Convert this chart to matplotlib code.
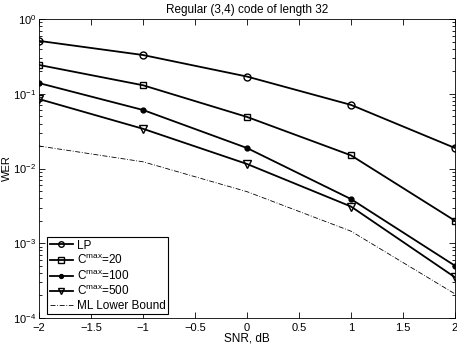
import matplotlib
matplotlib.use("Agg")
import matplotlib.pyplot as plt
from matplotlib.ticker import LogLocator, NullFormatter, FixedLocator

plt.rcParams['font.family'] = ['Liberation Sans', 'DejaVu Sans']
plt.rcParams['mathtext.fontset'] = 'custom'
plt.rcParams['mathtext.rm'] = 'Liberation Sans'
plt.rcParams['mathtext.it'] = 'Liberation Sans'

snr = [-2, -1, 0, 1, 2]
wer_lp = [0.51, 0.33, 0.17, 0.071, 0.0188]
wer_c20 = [0.243, 0.13, 0.049, 0.015, 0.002]
wer_c100 = [0.139, 0.0607, 0.0188, 0.0039, 0.0005]
wer_c500 = [0.085, 0.034, 0.0115, 0.0031, 0.00035]
wer_ml = [0.020, 0.0123, 0.0049, 0.00145, 0.00021]
labels = ['LP', r'C$^{\mathrm{max}}$=20', r'C$^{\mathrm{max}}$=100', r'C$^{\mathrm{max}}$=500', 'ML Lower Bound']

fig = plt.figure(figsize=(4.57, 3.46), dpi=100)
ax = fig.add_axes([0.0853, 0.081, 0.9103, 0.864])

kw = dict(color='black', lw=1.3)
ax.semilogy(snr, wer_lp, marker='o', ms=5, mfc='none', mec='black', mew=1.0, label=labels[0], **kw)
ax.semilogy(snr, wer_c20, marker='s', ms=5, mfc='none', mec='black', mew=1.0, label=labels[1], **kw)
ax.semilogy(snr, wer_c100, marker='o', ms=3.5, mfc='black', mec='black', label=labels[2], **kw)
ax.semilogy(snr, wer_c500, marker='v', ms=5.5, mfc='none', mec='black', mew=1.0, label=labels[3], **kw)
ax.semilogy(snr, wer_ml, color='black', lw=0.6, ls=(0, (6, 2, 1, 2)), label=labels[4])

ax.set_xlim(-2, 2)
ax.set_ylim(1e-4, 1)
ax.xaxis.set_major_locator(FixedLocator([-2, -1.5, -1, -0.5, 0, 0.5, 1, 1.5, 2]))
ax.set_xticklabels(['\u22122', '\u22121.5', '\u22121', '\u22120.5', '0', '0.5', '1', '1.5', '2'])
ax.yaxis.set_major_locator(LogLocator(base=10, numticks=10))
ax.yaxis.set_minor_locator(LogLocator(base=10, subs=range(2, 10), numticks=10))
ax.yaxis.set_minor_formatter(NullFormatter())
ax.tick_params(which='both', direction='in', top=True, right=True, labelsize=8, width=0.6)
ax.tick_params(which='major', length=4)
ax.tick_params(which='minor', length=2)
ax.tick_params(axis='y', pad=2)
for s in ax.spines.values():
    s.set_linewidth(0.6)

ax.set_xlabel('SNR, dB', fontsize=8.5, labelpad=0)
ax.set_ylabel('WER', fontsize=8)
ax.yaxis.set_label_coords(-0.066, 0.5)
ax.set_title('Regular (3,4) code of length 32', fontsize=8.5, pad=4)

leg = ax.legend(loc='lower left', bbox_to_anchor=(0.02, 0.012), fontsize=8.5, frameon=True,
                fancybox=False, edgecolor='black', framealpha=1, borderpad=0.2,
                labelspacing=0.15, handlelength=2.0, handletextpad=0.3, borderaxespad=0,
                markerscale=0.8)
leg.get_frame().set_linewidth(0.8)

fig.savefig('out.png', dpi=100)
